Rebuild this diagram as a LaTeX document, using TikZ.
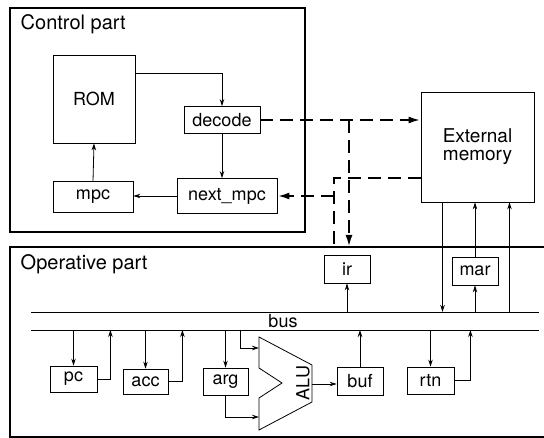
\documentclass[tikz,border=0pt]{standalone}
\usepackage{fontspec}
\setmainfont{TeX Gyre Heros}
\usetikzlibrary{arrows.meta}
\begin{document}
\begin{tikzpicture}[x=1pt,y=-1pt,line width=0.8pt,
    >={Stealth[length=7pt,width=4.5pt]},
    reg/.style={draw,inner sep=0pt,font=\fontsize{18}{20}\selectfont},
    title/.style={anchor=base west,font=\fontsize{20}{22}\selectfont},
    part/.style={line width=2pt},
    ctl/.style={line width=2.2pt,dash pattern=on 13pt off 7pt,-{Latex[length=12pt,width=7pt]}}]
    \useasboundingbox (0,0) rectangle (544,438);
    % control part
    \draw [part] (10,8) rectangle (305,232);
    \node [title] (ctltitle) at (17,30) {Control part};
    \node [reg,minimum width=82pt,minimum height=88pt] (ROM) at (94,99) {ROM};
    \node [reg,minimum width=76pt,minimum height=27pt] (decode) at (222,120) {decode};
    \node [reg,minimum width=100pt,minimum height=35pt] (next_mpc) at (227,196) {next\_mpc};
    \node [reg,minimum width=80pt,minimum height=31pt] (mpc) at (93,197) {mpc};
    \draw [->] ([yshift=-19pt]ROM.north east) -| (decode.north);
    \draw [->] (decode.south) -- (decode.south |- next_mpc.north);
    \draw [->] (next_mpc.west) -- (next_mpc.west -| mpc.east);
    \draw [->] (mpc.north) -- (ROM.south);
    % external memory
    \node [reg,minimum width=113pt,minimum height=110pt,align=center,
           font=\fontsize{19}{18}\selectfont] (EM) at (477.5,147) {External\\memory};
    % operative part
    \draw [part] (544,247) -- (10,247) -- (10,437) -- (544,437);
    \node [title] (optitle) at (17,270) {Operative part};
    \coordinate (bus top) at (31,312);
    \coordinate (bus low) at (31,330);
    \draw (bus top) -- ++(508,0);
    \draw (bus low) -- ++(508,0);
    \node [anchor=base,font=\fontsize{18}{20}\selectfont] (bus) at (283,328) {bus};
    \node [reg,minimum width=46pt,minimum height=28pt] (ir) at (347,269) {ir};
    \node [reg,minimum width=46pt,minimum height=28pt] (mar) at (475,271) {mar};
    \node [reg,minimum width=47pt,minimum height=26pt] (pc) at (73.5,379) {pc};
    \node [reg,minimum width=45pt,minimum height=25pt] (acc) at (145.5,381.5) {acc};
    \node [reg,minimum width=45pt,minimum height=27pt] (arg) at (225.5,381.5) {arg};
    \node [reg,minimum width=46pt,minimum height=28pt] (buf) at (360,381) {buf};
    \node [reg,minimum width=47pt,minimum height=27pt] (rtn) at (430.5,380.5) {rtn};
    % ALU
    \draw (259,337) -- (312,365) -- (312,402) -- (259,430) -- (259,398) -- (282,383) -- (259,368) -- cycle;
    \node [rotate=90,font=\fontsize{18}{20}\selectfont] (alu) at (303,383) {ALU};
    \coordinate (alu in a) at (259,348);
    \coordinate (alu in b) at (259,417);
    \coordinate (alu out) at (312,384);
    \coordinate (alu tap) at (240,330);
    % bus connections
    \draw [->] (pc.north |- bus low) -- (pc.north);
    \draw [->] (pc.east) -| ([xshift=13pt]pc.east |- bus low);
    \draw [->] (acc.north |- bus low) -- (acc.north);
    \draw [->] (acc.east) -| ([xshift=14pt]acc.east |- bus low);
    \draw [->] (arg.north |- bus low) -- (arg.north);
    \draw [->] (arg.south) |- (alu in b);
    \draw [->] (alu tap) |- (alu in a);
    \draw [->] (alu out) -- (alu out -| buf.west);
    \draw [->] (buf.north) -- (buf.north |- bus low);
    \draw [->] (rtn.north |- bus low) -- (rtn.north);
    \draw [->] (rtn.east) -| ([xshift=16pt]rtn.east |- bus low);
    \draw [->] (ir.south |- bus top) -- (ir.south);
    \draw [->] (mar.south |- bus top) -- (mar.south);
    \draw [->] (mar.north) -- (mar.north |- EM.south);
    \draw [->] ([xshift=-35pt]EM.south) -- ([xshift=-35pt]EM.south |- bus top);
    \draw [->] ([xshift=32pt]EM.south |- bus top) -- ([xshift=32pt]EM.south);
    % control lines
    \coordinate (ir in) at (349,247);
    \coordinate (ext out) at (334,247);
    \draw [ctl] (decode.east) -- (decode.east -| EM.west);
    \draw [ctl] (ir in |- decode.east) -- (ir in);
    \draw [ctl,-] ([yshift=-31pt]EM.west) -| (ext out);
    \draw [ctl] (ext out |- next_mpc.east) -- (next_mpc.east);
\end{tikzpicture}
\end{document}
